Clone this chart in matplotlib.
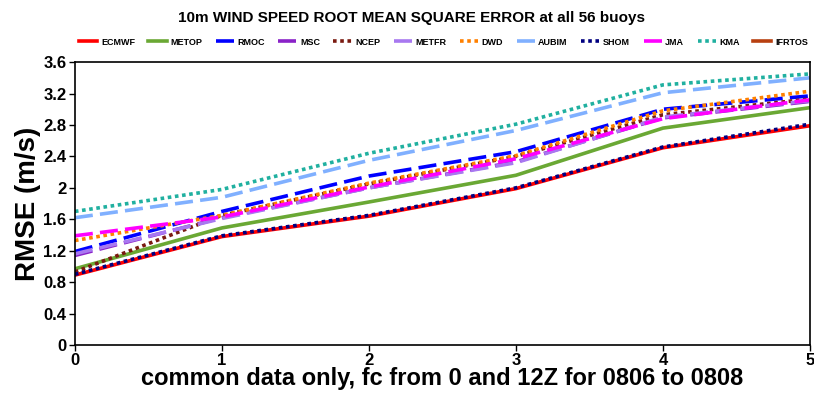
import matplotlib
matplotlib.use("Agg")
import matplotlib.pyplot as plt
import numpy as np

matplotlib.rcParams["font.family"] = ["Liberation Sans", "DejaVu Sans"]
matplotlib.rcParams["font.weight"] = "bold"

# forecast day on the x axis
fc_day = [0, 1, 2, 3, 4, 5]

# RMSE (m/s) per centre
ecmwf = [0.89, 1.38, 1.64, 1.99, 2.51, 2.79]
metop = [0.97, 1.49, 1.82, 2.16, 2.76, 3.02]
rmoc = [1.19, 1.70, 2.15, 2.46, 3.00, 3.17]
msc = [1.14, 1.62, 2.00, 2.33, 2.89, 3.10]
ncep = [0.93, 1.65, 2.05, 2.40, 2.93, 3.13]
metfr = [1.16, 1.61, 2.00, 2.32, 2.90, 3.11]
dwd = [1.33, 1.65, 2.06, 2.41, 2.98, 3.23]
aubim = [1.62, 1.88, 2.35, 2.73, 3.21, 3.40]
shom = [0.90, 1.39, 1.65, 2.00, 2.52, 2.81]
jma = [1.39, 1.63, 2.01, 2.37, 2.88, 3.12]
kma = [1.70, 1.98, 2.44, 2.81, 3.31, 3.45]
ifrtos = [np.nan] * 6

series = [
    ("ECMWF", ecmwf, "#ff0000", "-"),
    ("METOP", metop, "#6aa834", "-"),
    ("RMOC", rmoc, "#0000ff", (0, (5, 2))),
    ("MSC", msc, "#8a22c8", (0, (5, 2))),
    ("NCEP", ncep, "#7a1a10", (0, (1, 1))),
    ("METFR", metfr, "#a878f0", (0, (5, 2))),
    ("DWD", dwd, "#ff8000", (0, (1, 1))),
    ("AUBIM", aubim, "#80b0ff", (0, (5, 2))),
    ("SHOM", shom, "#000080", (0, (1, 1))),
    ("JMA", jma, "#ff00ff", (0, (5, 2))),
    ("KMA", kma, "#20b0a0", (0, (1, 1))),
    ("IFRTOS", ifrtos, "#b84010", "-"),
]

fig = plt.figure(figsize=(8.14, 3.93), dpi=100)
ax = fig.add_axes([0.092, 0.122, 0.903, 0.72])

for name, vals, col, ls in series:
    ax.plot(fc_day, vals, color=col, linestyle=ls, linewidth=2.6, label=name)

ax.set_xlim(0, 5)
ax.set_ylim(0, 3.6)
ax.set_xticks(fc_day)
ax.set_yticks(np.arange(0, 3.61, 0.4))
ax.set_yticklabels(["0", "0.4", "0.8", "1.2", "1.6", "2", "2.4", "2.8", "3.2", "3.6"])
ax.tick_params(labelsize=12, length=4, width=1, pad=2)
for lab in ax.get_xticklabels() + ax.get_yticklabels():
    lab.set_fontweight("bold")
for sp in ax.spines.values():
    sp.set_linewidth(1.2)

ax.set_ylabel("RMSE (m/s)", fontsize=20, fontweight="bold")
ax.yaxis.set_label_coords(-0.046, 0.5)
ax.set_xlabel("common data only, fc from 0 and 12Z for 0806 to 0808",
              fontsize=17, fontweight="bold", labelpad=-1)

fig.text(0.505, 0.953, "10m WIND SPEED ROOT MEAN SQUARE ERROR at all 56 buoys",
         ha="center", va="center", fontsize=11, fontweight="bold")

fig.legend(loc="center", bbox_to_anchor=(0.545, 0.893), ncol=12, frameon=False,
           handlelength=2.0, handletextpad=0.4, columnspacing=1.5,
           prop={"size": 6.5, "weight": "bold"})

fig.savefig("out.png", dpi=100)
